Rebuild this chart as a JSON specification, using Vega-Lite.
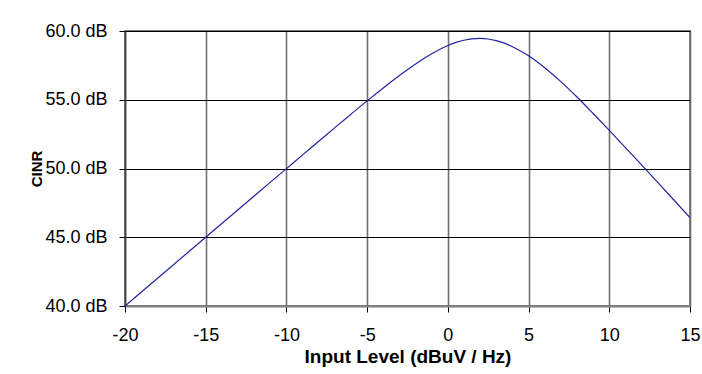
{
  "$schema": "https://vega.github.io/schema/vega-lite/v6.json",
  "width": 565,
  "height": 275,
  "padding": {"left": 125, "top": 31, "right": 12, "bottom": 68},
  "autosize": {"type": "none"},
  "background": "white",
  "data": {
    "values": [
      {"level": -20, "cinr": 40.0},
      {"level": -18, "cinr": 42.0},
      {"level": -16, "cinr": 44.0},
      {"level": -14, "cinr": 46.0},
      {"level": -12, "cinr": 48.0},
      {"level": -10, "cinr": 49.99},
      {"level": -9, "cinr": 50.99},
      {"level": -8, "cinr": 51.98},
      {"level": -7, "cinr": 52.97},
      {"level": -6, "cinr": 53.95},
      {"level": -5, "cinr": 54.92},
      {"level": -4, "cinr": 55.86},
      {"level": -3, "cinr": 56.76},
      {"level": -2, "cinr": 57.6},
      {"level": -1, "cinr": 58.34},
      {"level": 0, "cinr": 58.95},
      {"level": 0.5, "cinr": 59.17},
      {"level": 1, "cinr": 59.33},
      {"level": 1.5, "cinr": 59.43},
      {"level": 2, "cinr": 59.46},
      {"level": 2.5, "cinr": 59.42},
      {"level": 3, "cinr": 59.3},
      {"level": 3.5, "cinr": 59.12},
      {"level": 4, "cinr": 58.86},
      {"level": 5, "cinr": 58.2},
      {"level": 6, "cinr": 57.33},
      {"level": 7, "cinr": 56.32},
      {"level": 8, "cinr": 55.2},
      {"level": 9, "cinr": 54.0},
      {"level": 10, "cinr": 52.77},
      {"level": 11, "cinr": 51.52},
      {"level": 12, "cinr": 50.26},
      {"level": 13, "cinr": 48.99},
      {"level": 14, "cinr": 47.71},
      {"level": 15, "cinr": 46.42}
    ]
  },
  "mark": {"type": "line", "color": "#2222a0", "strokeWidth": 1.2, "interpolate": "monotone", "clip": true},
  "encoding": {
    "x": {
      "field": "level",
      "type": "quantitative",
      "scale": {"domain": [-20, 15], "nice": false, "zero": false},
      "axis": {
        "values": [-20, -15, -10, -5, 0, 5, 10, 15],
        "labelExpr": "datum.value < 0 ? '-' + abs(datum.value) : '' + datum.value",
        "title": "Input Level (dBuV / Hz)",
        "titleFont": "Liberation Sans",
        "titleFontSize": 19,
        "titleFontWeight": "bold",
        "titleColor": "black",
        "titlePadding": 3,
        "labelFont": "Liberation Sans",
        "labelFontSize": 18,
        "labelColor": "black",
        "labelPadding": 14,
        "labelFlush": false,
        "tickSize": 6,
        "tickColor": "black",
        "domainColor": "#808080",
        "domainWidth": 2,
        "grid": true,
        "gridColor": "#707070",
        "gridWidth": 1.6,
        "gridOpacity": 1
      }
    },
    "y": {
      "field": "cinr",
      "type": "quantitative",
      "scale": {"domain": [40, 60], "nice": false, "zero": false},
      "axis": {
        "values": [40, 45, 50, 55, 60],
        "labelExpr": "format(datum.value, '.1f') + ' dB'",
        "title": "CINR",
        "titleFont": "Liberation Sans",
        "titleFontSize": 15,
        "titleFontWeight": "bold",
        "titleColor": "black",
        "titlePadding": 0,
        "labelFont": "Liberation Sans",
        "labelFontSize": 18,
        "labelColor": "black",
        "labelPadding": 12,
        "labelFlush": false,
        "tickSize": 6,
        "tickColor": "black",
        "domainColor": "#404040",
        "domainWidth": 1.5,
        "grid": true,
        "gridColor": "black",
        "gridWidth": 1,
        "gridOpacity": 1
      }
    }
  },
  "config": {
    "view": {"stroke": "#808080", "strokeWidth": 2}
  }
}
